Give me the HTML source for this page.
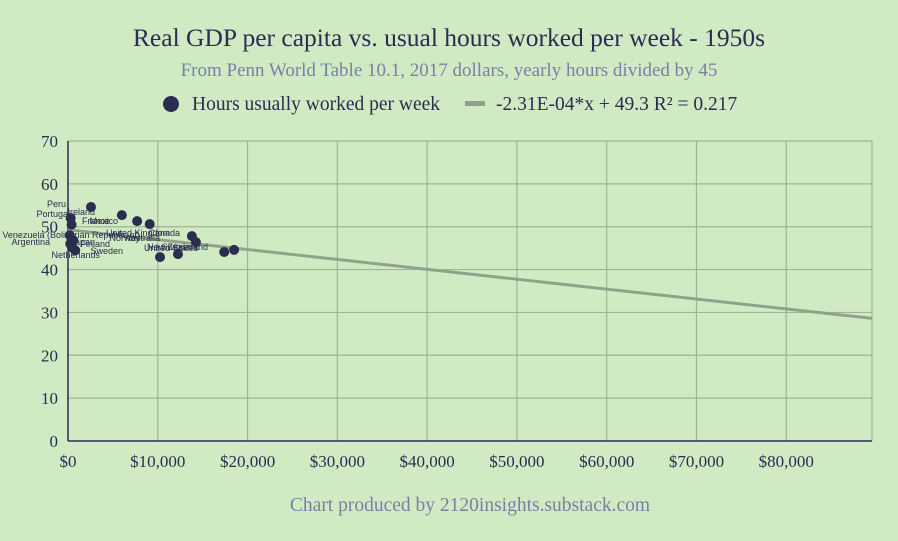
<!DOCTYPE html>
<html><head><meta charset="utf-8"><style>
body{margin:0;background:#d0ebc4;}
svg{display:block;font-family:"Liberation Serif",serif;}
</style></head><body>
<svg id="c" width="898" height="541">
<rect width="898" height="541" fill="#d0ebc4"/>
<text x="449" y="46" text-anchor="middle" font-size="25.5" fill="#2b2d4e">Real GDP per capita vs. usual hours worked per week - 1950s</text>
<text x="449" y="76" text-anchor="middle" font-size="19" fill="#7a7fa6">From Penn World Table 10.1, 2017 dollars, yearly hours divided by 45</text>
<g>
<circle cx="171" cy="104" r="8" fill="#2b2d4e"/>
<text x="192" y="110" font-size="19.5" fill="#2b2d4e">Hours usually worked per week</text>
<rect x="465" y="101" width="20" height="5" fill="#8fa38b"/>
<text x="496" y="110" font-size="19.5" fill="#2b2d4e">-2.31E-04*x + 49.3 R² = 0.217</text>
</g>
<g id="grid"></g><g id="axes"></g><g id="trend"></g><g id="pts"></g><g id="lbls"></g>
<text x="470" y="511" text-anchor="middle" font-size="19.5" fill="#7a7fa6">Chart produced by 2120insights.substack.com</text>
</svg>
<script>
const xTicks=[0,10000,20000,30000,40000,50000,60000,70000,80000];
const xTickLabels=["$0","$10,000","$20,000","$30,000","$40,000","$50,000","$60,000","$70,000","$80,000"];
const yTicks=[0,10,20,30,40,50,60,70];
const countries=["Peru","Ireland","Portugal","Mexico","France","Venezuela (Bolivarian Republic of)","Argentina","Japan","United Kingdom","Canada","Norway","Australia","Finland","Sweden","Netherlands","United States","Switzerland","New Zealand"];
const gdp=[2560,6000,300,400,7700,200,250,350,9100,13800,600,14250,500,10250,12250,800,18500,17400];
const hours=[54.6,52.7,52.0,50.5,51.3,48.0,46.0,46.5,50.6,47.8,46.8,46.4,45.0,42.9,43.6,44.5,44.6,44.1];
const labelX=[66,95,70,118,110,140,50,95,170,180,140,160,110,123,100,198,208,200];
const labelY=[207,215,217,224,224,238,245,245,236,236,241,241,247,254,258,251,250,250];
const trendSlope=-0.000231, trendIntercept=49.3;
const X0=68,X1=872,XMAX=89550,Y0=441,Y1=141,YMAX=70;
const sx=v=>X0+v/XMAX*(X1-X0), sy=v=>Y0-v/YMAX*(Y0-Y1);
const NS="http://www.w3.org/2000/svg";
function mk(p,t,a){const e=document.createElementNS(NS,t);for(const k in a)e.setAttribute(k,a[k]);document.getElementById(p).appendChild(e);return e;}
yTicks.forEach(t=>{
 if(t>0){const l=mk('grid','line',{x1:X0,x2:X1,y1:sy(t),y2:sy(t),stroke:'#9db595','stroke-width':1.2});
 
 }
 const tx=mk('axes','text',{x:58,y:sy(t)+6,'text-anchor':'end','font-size':17,fill:'#2b2d4e'});tx.textContent=t;
 
 
});
mk('grid','line',{x1:X1,x2:X1,y1:Y1,y2:Y0,stroke:'#9db595','stroke-width':1.2});
xTicks.forEach((t,i)=>{
 if(t>0){const l=mk('grid','line',{x1:sx(t),x2:sx(t),y1:Y1,y2:Y0,stroke:'#9db595','stroke-width':1.2});
 
 }
 const tx=mk('axes','text',{x:sx(t),y:467,'text-anchor':'middle','font-size':17,fill:'#2b2d4e'});tx.textContent=xTickLabels[i];
 
 
});
const xa=mk('axes','line',{x1:X0,x2:X1,y1:Y0,y2:Y0,stroke:'#2b2d4e','stroke-width':1.5});


const ya=mk('axes','line',{x1:X0,x2:X0,y1:Y1,y2:Y0,stroke:'#2b2d4e','stroke-width':1.5});


const tl=mk('trend','line',{x1:sx(0),y1:sy(trendIntercept),x2:sx(XMAX),y2:sy(trendIntercept+trendSlope*XMAX),stroke:'#8fa38b','stroke-width':3});


countries.forEach((c,i)=>{
 const cx=sx(gdp[i]),cy=sy(hours[i]);
 const d=mk('pts','circle',{cx:cx,cy:cy,r:5,fill:'#2b2d4e'});
 
 
 const t=mk('lbls','text',{x:labelX[i],y:labelY[i],'text-anchor':'end','font-size':9,fill:'#2b2d4e','font-family':'Liberation Sans, sans-serif'});t.textContent=c;
 
 
});
</script>
</body></html>
